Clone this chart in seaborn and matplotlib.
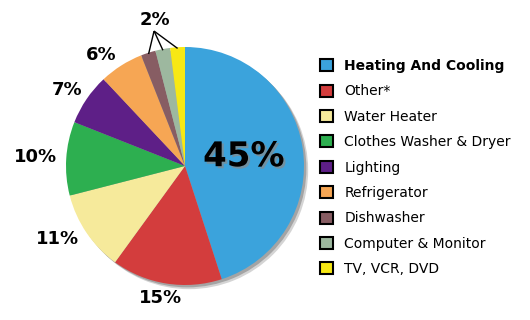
import matplotlib
matplotlib.use("Agg")
import matplotlib.pyplot as plt
import matplotlib.patheffects as pe
from matplotlib.patches import Patch
import numpy as np
import seaborn as sns

# ---- data ----
categories = ["Heating And Cooling", "Other*", "Water Heater", "Clothes Washer & Dryer",
              "Lighting", "Refrigerator", "Dishwasher", "Computer & Monitor", "TV, VCR, DVD"]
shares = [45, 15, 11, 10, 7, 6, 2, 2, 2]
pct_labels = ["45%", "15%", "11%", "10%", "7%", "6%", "2%", "2%", "2%"]
colors = ["#3BA3DC", "#D33D3D", "#F6EA9B", "#2DAF50", "#5E1F87",
          "#F6A654", "#875D63", "#9DB89F", "#F7E814"]

# ---- style ----
sns.set_theme(style="white")
plt.rcParams['font.family'] = ['DejaVu Sans']

W, H = 530, 320
cx, cy, R = 185, 166, 119
lim = 1.05
fig = plt.figure(figsize=(W / 100, H / 100), dpi=100)
fig.patch.set_facecolor('white')
ax = fig.add_axes([(cx - R * lim) / W, (H - cy - R * lim) / H, 2 * R * lim / W, 2 * R * lim / H])

# soft shadow
ax.pie([1], colors=['#d4d4d4'], center=(0.035, -0.035), wedgeprops=dict(linewidth=0))
ax.pie([1], colors=['#a4a4a4'], center=(0.02, -0.02), wedgeprops=dict(linewidth=0))
wedges, _ = ax.pie(shares, colors=colors, startangle=90, counterclock=False,
                   wedgeprops=dict(linewidth=0))
ax.set_xlim(-lim, lim)
ax.set_ylim(-lim, lim)
ax.set_aspect('equal')
ax.axis('off')

def mid(w):
    return np.deg2rad((w.theta1 + w.theta2) / 2)

# big inside label
a = mid(wedges[0])
ax.text(0.5 * np.cos(a), 0.5 * np.sin(a), pct_labels[0], ha='center', va='center',
        fontsize=24.5, fontweight='bold', color='black',
        path_effects=[pe.withSimplePatchShadow(offset=(1.5, -1.5), shadow_rgbFace='#888888', alpha=0.7)])

# outside labels (distance, angle offset in degrees)
layout = {1: (1.13, -1.7), 2: (1.23, -4.5), 3: (1.26, 0.0), 4: (1.18, 1.3), 5: (1.165, 4.6)}
for i, (d, off) in layout.items():
    a = mid(wedges[i]) + np.deg2rad(off)
    ax.text(d * np.cos(a), d * np.sin(a), pct_labels[i], ha='center', va='center',
            fontsize=13, fontweight='bold', color='black')

# shared label for the three small slices
apex = (-0.26, 1.134)
ax.text(-0.25, 1.228, pct_labels[6], ha='center', va='center', fontsize=13,
        fontweight='bold', color='black')
for i in (6, 7, 8):
    a = mid(wedges[i])
    ax.plot([apex[0], 0.99 * np.cos(a)], [apex[1], 0.99 * np.sin(a)],
            color='black', lw=1.0, clip_on=False, solid_capstyle='butt')

# legend
handles = [Patch(facecolor=c, edgecolor='black', linewidth=1.5) for c in colors]
leg = fig.legend(handles, categories, loc='upper left', bbox_to_anchor=(320 / W, 1 - 59 / H),
                 frameon=False, fontsize=10, handlelength=0.94, handleheight=0.94,
                 handletextpad=0.8, labelspacing=0.82, borderpad=0, borderaxespad=0)
leg.get_texts()[0].set_fontweight('bold')
for t in leg.get_texts():
    t.set_color('black')

fig.savefig('out.png', dpi=100, facecolor='white')
